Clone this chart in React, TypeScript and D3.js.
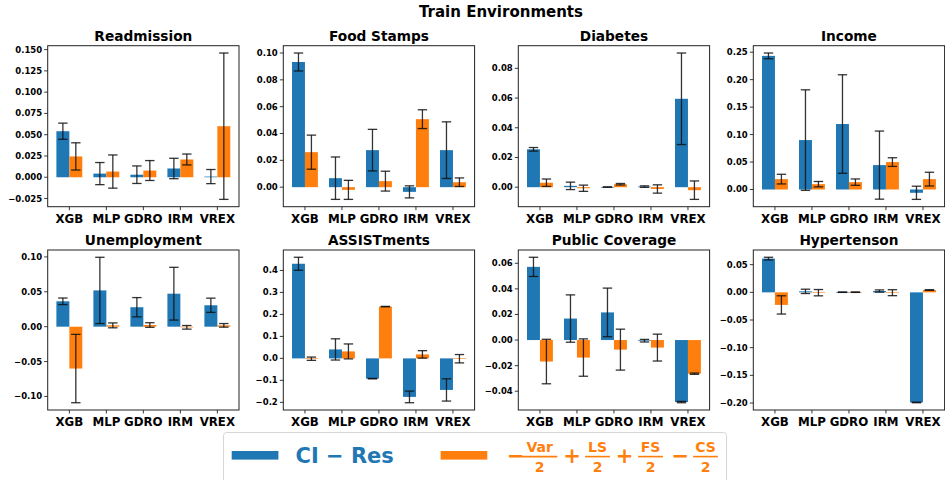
import React from "react";
import * as d3 from "d3";

const methods = ["XGB", "MLP", "GDRO", "IRM", "VREX"];
const datasets = [
  "Readmission",
  "Food Stamps",
  "Diabetes",
  "Income",
  "Unemployment",
  "ASSISTments",
  "Public Coverage",
  "Hypertenson",
];

// CI − Res, one row per dataset, one column per method
const ciRes = [
  [0.0541, 0.0043, 0.003, 0.0103, 0.0008],
  [0.0933, 0.0067, 0.0276, -0.0035, 0.0276],
  [0.0255, 0.0009, 0.0001, 0.0004, 0.0595],
  [0.2433, 0.09, 0.1192, 0.0444, -0.006],
  [0.0364, 0.052, 0.0279, 0.0473, 0.0307],
  [0.4305, 0.0408, -0.0921, -0.1752, -0.1435],
  [0.0572, 0.0168, 0.0216, -0.0005, -0.0485],
  [0.061, 0.0018, 0.0003, 0.0024, -0.199],
];
const ciResErr = [
  [0.0095, 0.013, 0.0103, 0.012, 0.0083],
  [0.0067, 0.0158, 0.0155, 0.0045, 0.0211],
  [0.0012, 0.0025, 0.0001, 0.0005, 0.0308],
  [0.0052, 0.0915, 0.0897, 0.062, 0.012],
  [0.0047, 0.0475, 0.0138, 0.0378, 0.0102],
  [0.0295, 0.0483, 0.001, 0.0265, 0.0507],
  [0.0075, 0.0185, 0.019, 0.001, 0.0005],
  [0.0024, 0.0039, 0.0004, 0.002, 0.0005],
];

// −Var/2 + LS/2 + FS/2 − CS/2
const shiftSum = [
  [0.0245, 0.0067, 0.0079, 0.0209, 0.06],
  [0.0261, -0.002, 0.0045, 0.0507, 0.0037],
  [0.003, -0.0007, 0.002, -0.0012, -0.002],
  [0.0189, 0.0097, 0.0134, 0.0499, 0.0189],
  [-0.06, 0.0019, 0.0024, -0.0009, 0.0019],
  [-0.0015, 0.0317, 0.2356, 0.0181, -0.0015],
  [-0.0168, -0.0137, -0.0075, -0.0059, -0.0263],
  [-0.0227, -0.0006, 0.0003, -0.0006, 0.0042],
];
const shiftSumErr = [
  [0.016, 0.0195, 0.0117, 0.0064, 0.086],
  [0.0127, 0.0071, 0.0074, 0.007, 0.0032],
  [0.0025, 0.0021, 0.0005, 0.0028, 0.0062],
  [0.0088, 0.0049, 0.0058, 0.0079, 0.0125],
  [0.049, 0.0035, 0.0033, 0.0026, 0.0026],
  [0.0075, 0.034, 0.001, 0.017, 0.019],
  [0.0174, 0.0146, 0.016, 0.0105, 0.0005],
  [0.0165, 0.0057, 0.0004, 0.0054, 0.0006],
];

const yTicks = [
  [-0.025, 0, 0.025, 0.05, 0.075, 0.1, 0.125, 0.15],
  [0, 0.02, 0.04, 0.06, 0.08, 0.1],
  [0, 0.02, 0.04, 0.06, 0.08],
  [0, 0.05, 0.1, 0.15, 0.2, 0.25],
  [-0.1, -0.05, 0, 0.05, 0.1],
  [-0.2, -0.1, 0, 0.1, 0.2, 0.3, 0.4],
  [-0.04, -0.02, 0, 0.02, 0.04, 0.06],
  [-0.2, -0.15, -0.1, -0.05, 0, 0.05],
];
const yTickDecimals = [3, 2, 2, 2, 2, 1, 2, 2];

const BLUE = "#1f77b4";
const ORANGE = "#ff7f0e";
const FONT = "'DejaVu Sans', sans-serif";

const W = 945;
const H = 480;
const colLeft = [47.7, 283.3, 518.3, 753.3];
const plotW = 191.3;
const rowTop = [45.7, 250];
const rowBottom = [206.7, 410];
const barWidth = 0.35;
const cap = 4.7;

function fmt(v: number, d: number) {
  const s = Math.abs(v).toFixed(d);
  return v < 0 ? "\u2212" + s : s;
}

function Panel({ idx }: { idx: number }) {
  const col = idx % 4;
  const row = Math.floor(idx / 4);
  const left = colLeft[col];
  const right = left + plotW;
  const top = rowTop[row];
  const bottom = rowBottom[row];

  const series = [
    { vals: ciRes[idx], errs: ciResErr[idx], color: BLUE, offset: -barWidth / 2 },
    { vals: shiftSum[idx], errs: shiftSumErr[idx], color: ORANGE, offset: barWidth / 2 },
  ];

  const extent: number[] = [0];
  series.forEach((s) =>
    s.vals.forEach((v, i) => {
      extent.push(v - s.errs[i], v + s.errs[i]);
    })
  );
  const lo = d3.min(extent)!;
  const hi = d3.max(extent)!;
  const pad = (hi - lo) * 0.05;

  const x = d3
    .scaleLinear()
    .domain([-barWidth - (methods.length - 1 + 2 * barWidth) * 0.05, methods.length - 1 + barWidth + (methods.length - 1 + 2 * barWidth) * 0.05])
    .range([left, right]);
  const y = d3.scaleLinear().domain([lo - pad, hi + pad]).range([bottom, top]);

  return (
    <g>
      <text
        x={(left + right) / 2}
        y={top - 4.6}
        textAnchor="middle"
        fontFamily={FONT}
        fontWeight="bold"
        fontSize={13.7}
        fill="#000"
      >
        {datasets[idx]}
      </text>
      {series.map((s, si) =>
        s.vals.map((v, i) => {
          const cx = x(i + s.offset);
          const x0 = x(i + s.offset - barWidth / 2);
          const x1 = x(i + s.offset + barWidth / 2);
          const y0 = y(Math.max(0, v));
          const y1 = y(Math.min(0, v));
          const eTop = y(v + s.errs[i]);
          const eBot = y(v - s.errs[i]);
          return (
            <g key={`${si}-${i}`}>
              <rect x={x0} y={y0} width={x1 - x0} height={Math.max(0.6, y1 - y0)} fill={s.color} />
              <g stroke="#111" strokeWidth={1.3} strokeOpacity={0.85}>
                <line x1={cx} x2={cx} y1={eTop} y2={eBot} />
                <line x1={cx - cap} x2={cx + cap} y1={eTop} y2={eTop} />
                <line x1={cx - cap} x2={cx + cap} y1={eBot} y2={eBot} />
              </g>
            </g>
          );
        })
      )}
      <rect x={left} y={top} width={right - left} height={bottom - top} fill="none" stroke="#222" strokeWidth={1} />
      {yTicks[idx].map((t) => (
        <g key={t}>
          <line x1={left - 3.5} x2={left} y1={y(t)} y2={y(t)} stroke="#222" strokeWidth={0.9} />
          <text
            x={left - 5.5}
            y={y(t)}
            dy="0.35em"
            textAnchor="end"
            fontFamily={FONT}
            fontWeight="bold"
            fontSize={8.5}
            fill="#000"
          >
            {fmt(t, yTickDecimals[idx])}
          </text>
        </g>
      ))}
      {methods.map((m, i) => (
        <g key={m}>
          <line x1={x(i)} x2={x(i)} y1={bottom} y2={bottom + 3.5} stroke="#222" strokeWidth={0.9} />
          <text
            x={x(i)}
            y={bottom + 15.8}
            textAnchor="middle"
            fontFamily={FONT}
            fontWeight="bold"
            fontSize={11.8}
            fill="#000"
          >
            {m}
          </text>
        </g>
      ))}
    </g>
  );
}

function Fraction({ cx, label }: { cx: number; label: string }) {
  const half = label.length * 5.2 + 2;
  return (
    <g fill={ORANGE} fontFamily={FONT} fontWeight="bold" fontSize={14}>
      <text x={cx} y={451.8} textAnchor="middle">
        {label}
      </text>
      <line x1={cx - half} x2={cx + half} y1={456.6} y2={456.6} stroke={ORANGE} strokeWidth={1.6} />
      <text x={cx} y={471.7} textAnchor="middle">
        2
      </text>
    </g>
  );
}

function Legend() {
  const opY = 462.6;
  return (
    <g>
      <rect x={223.5} y={432.5} width={503} height={60} rx={3} fill="#fff" fillOpacity={0.8} stroke="#d6d6d6" strokeWidth={1} />
      <rect x={231.7} y={451} width={46.7} height={8.6} fill={BLUE} />
      <text x={295.5} y={463.2} fontFamily={FONT} fontWeight="bold" fontSize={21} fill={BLUE}>
        CI − Res
      </text>
      <rect x={440.6} y={451} width={46.7} height={8.6} fill={ORANGE} />
      <g fill={ORANGE} fontFamily={FONT} fontWeight="bold" fontSize={21} textAnchor="middle">
        <text x={515.8} y={opY}>−</text>
        <text x={572} y={opY}>+</text>
        <text x={624.5} y={opY}>+</text>
        <text x={680.3} y={opY}>−</text>
      </g>
      <Fraction cx={539.7} label="Var" />
      <Fraction cx={597.5} label="LS" />
      <Fraction cx={650.5} label="FS" />
      <Fraction cx={705.5} label="CS" />
    </g>
  );
}

export default function App() {
  return (
    <svg
      width={W}
      height={H}
      viewBox={`0 0 ${W} ${H}`}
      style={{ position: "absolute", left: 0, top: 0, background: "#fff" }}
    >
      <rect x={0} y={0} width={W} height={H} fill="#fff" />
      <text x={501} y={17.3} textAnchor="middle" fontFamily={FONT} fontWeight="bold" fontSize={15} fill="#000">
        Train Environments
      </text>
      {datasets.map((_, i) => (
        <Panel key={i} idx={i} />
      ))}
      <Legend />
    </svg>
  );
}
